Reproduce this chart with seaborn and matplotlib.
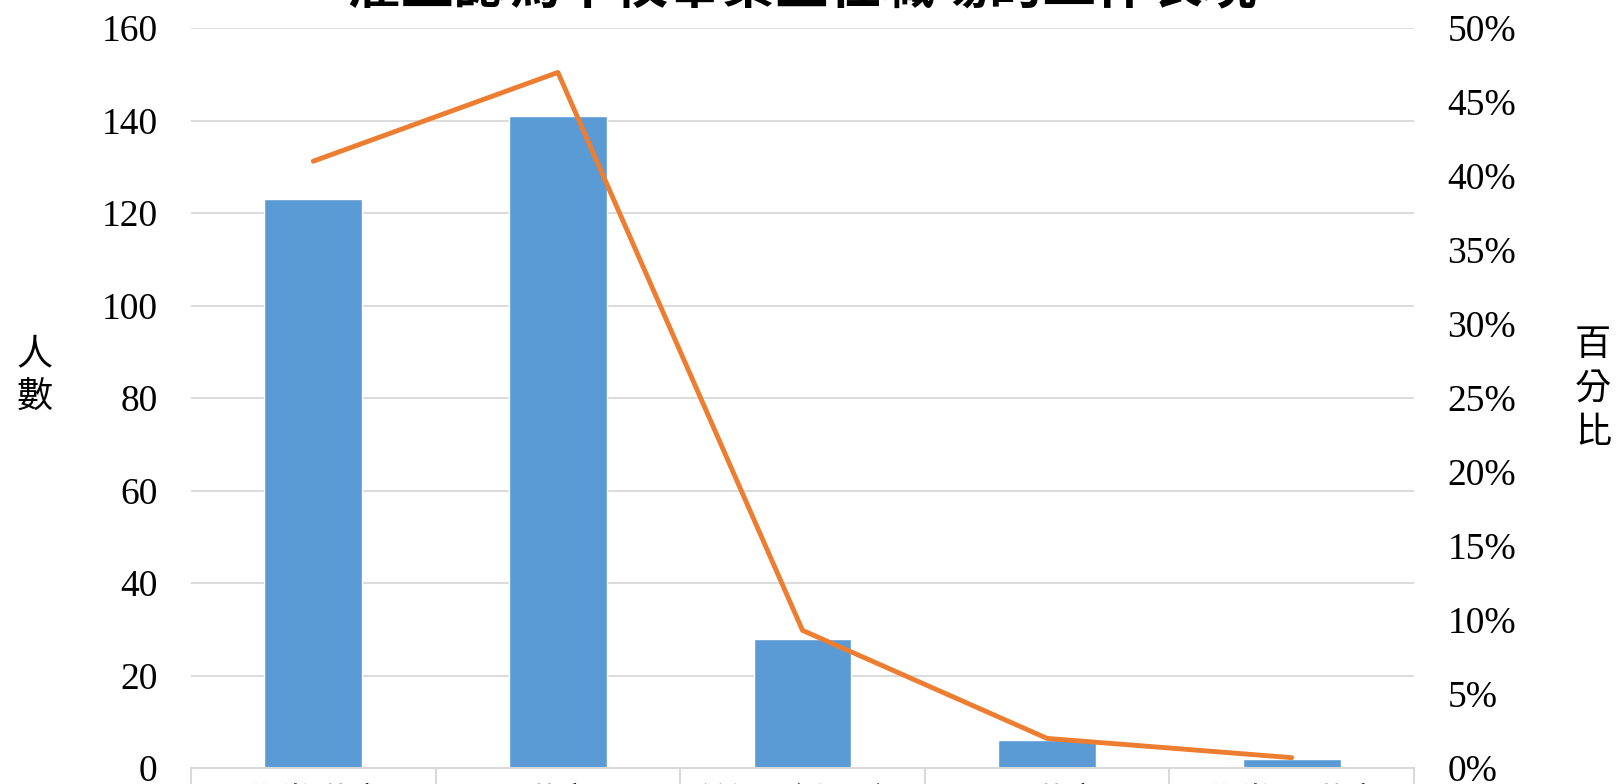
import numpy as np
import pandas as pd
import seaborn as sns
import matplotlib.pyplot as plt
from matplotlib.ticker import FixedLocator, PercentFormatter

# data
categories = ["非常滿意", "滿意", "普通（尚可）", "不滿意", "非常不滿意"]
counts = [123, 141, 28, 6, 2]
percents = [41.0, 47.0, 9.3, 2.0, 0.7]
title = "雇主認為本校畢業生在職場的工作表現"

df = pd.DataFrame({"cat": categories, "n": counts, "pct": percents})

sns.set_style("white")
plt.rcParams['font.family'] = ['Liberation Serif', 'Noto Sans CJK TC']
plt.rcParams['text.color'] = 'black'
plt.rcParams['xtick.color'] = 'black'
plt.rcParams['ytick.color'] = 'black'
cjk = ['Noto Sans CJK TC', 'DejaVu Sans']

fig = plt.figure(figsize=(16.18, 7.84), dpi=100)
ax = fig.add_axes([191 / 1618, 1 - 768 / 784, (1414 - 191) / 1618, (768 - 28) / 784])

sns.barplot(data=df, x="cat", y="n", color="#5B9BD5", saturation=1, width=0.4, ax=ax)
ax.set_ylim(0, 160)
ax.set_yticks(range(0, 161, 20))
ax.set_xlim(-0.5, len(categories) - 0.5)
ax.yaxis.grid(True, color="#d9d9d9", linewidth=1.3)
ax.set_axisbelow(True)
for s in ["top", "left", "right"]:
    ax.spines[s].set_visible(False)
ax.spines["bottom"].set_color("#d9d9d9")
ax.spines["bottom"].set_linewidth(1.5)
ax.set_xlabel("")
ax.set_ylabel("")
ax.tick_params(axis="y", length=0, pad=24, labelsize=27)
ax.tick_params(axis="x", which="major", bottom=True, length=0, pad=13)
ax.xaxis.set_minor_locator(FixedLocator(np.arange(-0.5, len(categories), 1.0)))
ax.tick_params(axis="x", which="minor", bottom=True, length=40, width=1.5, color="#d9d9d9")
for lab in ax.get_xticklabels():
    lab.set_fontfamily(cjk)
    lab.set_fontsize(26)

ax2 = ax.twinx()
sns.lineplot(data=df, x="cat", y="pct", color="#ED7D31", linewidth=3.5, sort=False, ax=ax2)
ax2.set_ylim(0, 50)
ax2.set_yticks(range(0, 51, 5))
ax2.yaxis.set_major_formatter(PercentFormatter(decimals=0))
ax2.tick_params(axis="y", length=0, pad=24, labelsize=27)
ax2.set_ylabel("")
ax2.set_xlabel("")
for s in ["top", "left", "right", "bottom"]:
    ax2.spines[s].set_visible(False)

fig.text(35 / 1618, 1 - 376 / 784, "人\n數", family=cjk, fontsize=26,
         ha="center", va="center", linespacing=1.3)
fig.text(1593 / 1618, 1 - 389 / 784, "百\n分\n比", family=cjk, fontsize=26,
         ha="center", va="center", linespacing=1.3)
fig.text(802 / 1618, 1 - 3 / 784, title, family=cjk, fontsize=38.5, fontweight="bold",
         ha="center", va="baseline")

fig.savefig("out.png", dpi=100)
